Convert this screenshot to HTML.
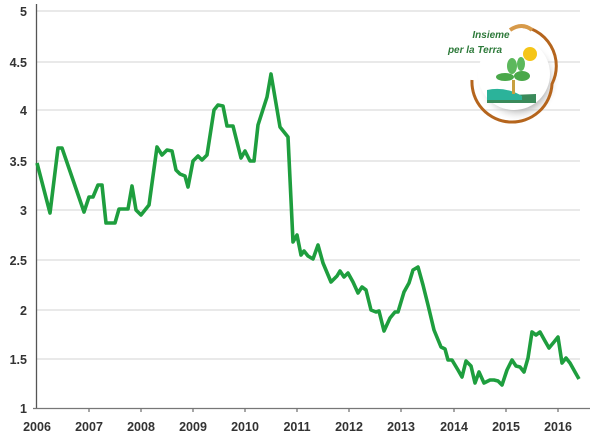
<!DOCTYPE html>
<html><head><meta charset="utf-8"><style>
html,body{margin:0;padding:0;background:#fff;}
svg{display:block;}
text{font-family:"Liberation Sans",sans-serif;}
</style></head><body>
<svg width="600" height="438" viewBox="0 0 600 438" xmlns="http://www.w3.org/2000/svg">
<defs>
<radialGradient id="sh" cx="0.5" cy="0.5" r="0.5">
<stop offset="0.7" stop-color="#aaa" stop-opacity="0.7"/>
<stop offset="1" stop-color="#fff" stop-opacity="0"/>
</radialGradient>
</defs>
<g stroke="#dcdcdc" stroke-width="1.2">
<line x1="37" y1="11" x2="580" y2="11"/>
<line x1="37" y1="62" x2="580" y2="62"/>
<line x1="37" y1="110" x2="580" y2="110"/>
<line x1="37" y1="161" x2="580" y2="161"/>
<line x1="37" y1="210" x2="580" y2="210"/>
<line x1="37" y1="260" x2="580" y2="260"/>
<line x1="37" y1="310" x2="580" y2="310"/>
<line x1="37" y1="359" x2="580" y2="359"/>
</g>
<g font-size="12.5" fill="#333" text-anchor="end" font-weight="bold">
<text x="27" y="16">5</text>
<text x="27" y="67">4.5</text>
<text x="27" y="115">4</text>
<text x="27" y="166">3.5</text>
<text x="27" y="215">3</text>
<text x="27" y="265">2.5</text>
<text x="27" y="315">2</text>
<text x="27" y="364">1.5</text>
<text x="27" y="413">1</text>
</g>
<line x1="36.5" y1="4" x2="36.5" y2="409" stroke="#555" stroke-width="1.3"/>
<line x1="33" y1="408.5" x2="590" y2="408.5" stroke="#777" stroke-width="1.3"/>
<g stroke="#777" stroke-width="1.3">
<line x1="89" y1="408" x2="89" y2="412"/><line x1="141" y1="408" x2="141" y2="412"/>
<line x1="193" y1="408" x2="193" y2="412"/><line x1="245" y1="408" x2="245" y2="412"/>
<line x1="297" y1="408" x2="297" y2="412"/><line x1="349" y1="408" x2="349" y2="412"/>
<line x1="401" y1="408" x2="401" y2="412"/><line x1="454" y1="408" x2="454" y2="412"/>
<line x1="506" y1="408" x2="506" y2="412"/><line x1="558" y1="408" x2="558" y2="412"/>
</g>
<g font-size="12.5" fill="#333" text-anchor="middle" font-weight="bold">
<text x="37" y="431">2006</text><text x="89" y="431">2007</text><text x="141" y="431">2008</text>
<text x="193" y="431">2009</text><text x="245" y="431">2010</text><text x="297" y="431">2011</text>
<text x="349" y="431">2012</text><text x="401" y="431">2013</text><text x="454" y="431">2014</text>
<text x="506" y="431">2015</text><text x="558" y="431">2016</text>
</g>
<polyline fill="none" stroke="#1e9e3e" stroke-width="3.6" stroke-linejoin="round" points="
37,163 50,213 58,148 62,148 84,212 89,197 93,197 98,185 102,185 106,223 115,223 119,209 128,209 132,186 136,210 141,215 149,205 157,147 162,155 167,150 172,151 176,170 180,174 185,176 188,187 193,161 198,156 202,160 207,155 214,110 218,105 223,106 227,126 233,126 241,158 245,151 250,161 254,161 258,125 267,97 271,74 280,127 288,137
293,242 297,235 301,255 304,251 308,256 313,259 318,245 323,263 331,282 337,276 340,271 344,277 348,273 353,282 358,293 362,287 366,290 371,310 376,312 379,311 384,331 390,318 395,312 398,312 404,292 409,283 413,270 418,267 423,285 428,305 434,330 441,347 445,349 448,360 452,360 458,370 462,377 466,361 471,366 475,383 479,372 484,383 490,380 494,380 498,381 502,385 507,370 512,360 516,366 520,367 524,372 528,358 532,332 536,335 540,332 545,341 549,348 554,342 558,337 562,363 566,358 570,363 575,372 579,379"/>
<g>
<circle cx="518" cy="80" r="42" fill="url(#sh)"/>
<circle cx="514" cy="74" r="36" fill="#fff"/>
<path d="M472,80 A40,40 0 0 0 552,84 A40,40 0 0 0 518,26" fill="none" stroke="#b5651d" stroke-width="3"/>
<path d="M510,30 Q522,22 532,30" fill="none" stroke="#d79a4a" stroke-width="4"/>
<circle cx="530" cy="54" r="7" fill="#f5c518"/>
<path d="M487,96 L536,94 L536,103 L487,103 Z" fill="#3a8a5a"/>
<path d="M487,90 Q505,86 522,96 L522,100 L487,100 Z" fill="#2bb39a"/>
<ellipse cx="505" cy="77" rx="9" ry="4" fill="#4aa84a"/>
<ellipse cx="522" cy="76" rx="8" ry="5" fill="#4aa84a"/>
<ellipse cx="512" cy="66" rx="5" ry="8" fill="#5cb85c"/>
<ellipse cx="521" cy="64" rx="4" ry="7" fill="#5cb85c"/>
<rect x="512" y="80" width="3" height="14" fill="#c8a040"/>
<text x="491" y="38" font-size="10" font-style="italic" font-weight="bold" fill="#2d7a3a" font-family="Liberation Serif,serif" text-anchor="middle">Insieme</text>
<text x="475" y="53" font-size="10" font-style="italic" font-weight="bold" fill="#2d7a3a" font-family="Liberation Serif,serif" text-anchor="middle">per la Terra</text>
</g>
</svg>
</body></html>
